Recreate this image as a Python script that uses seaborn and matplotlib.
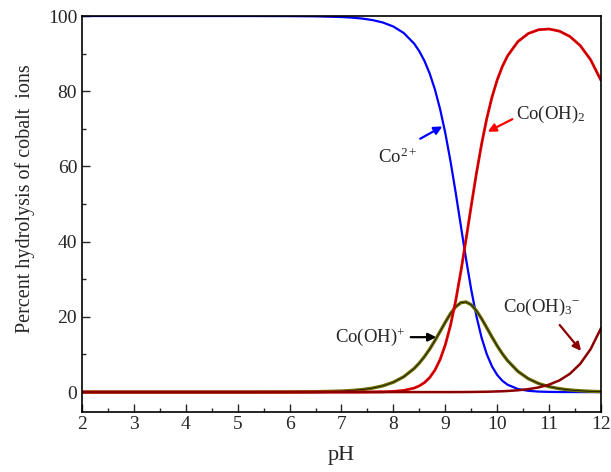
import matplotlib
matplotlib.use("Agg")
import matplotlib.pyplot as plt
from matplotlib.ticker import MultipleLocator
import seaborn as sns
import pandas as pd

ph = [2, 3, 4, 5, 6, 6.5, 7.0, 7.2, 7.4, 7.6, 7.8, 8.0, 8.2, 8.4, 8.5, 8.6, 8.7, 8.8, 8.9,
      9.0, 9.1, 9.2, 9.3, 9.4, 9.5, 9.6, 9.7, 9.8, 9.9, 10.0, 10.1, 10.2, 10.4, 10.6, 10.8,
      11.0, 11.2, 11.4, 11.6, 11.8, 12.0]
co2 = [100, 100, 100, 100, 99.97, 99.91, 99.73, 99.57, 99.32, 98.91, 98.26, 97.20, 95.48,
       92.66, 90.62, 88.02, 84.69, 80.48, 75.25, 68.89, 61.43, 53.06, 44.20, 35.39, 27.22,
       20.16, 14.44, 10.05, 6.83, 4.56, 3.00, 1.96, 0.81, 0.33, 0.13, 0.05, 0.02, 0.01, 0, 0, 0]
cooh = [0, 0, 0, 0, 0.03, 0.09, 0.27, 0.43, 0.67, 1.06, 1.67, 2.62, 4.08, 6.27, 7.73, 9.45,
        11.44, 13.69, 16.11, 18.57, 20.85, 22.67, 23.77, 23.96, 23.21, 21.64, 19.51, 17.09,
        14.63, 12.29, 10.19, 8.36, 5.50, 3.55, 2.26, 1.43, 0.90, 0.56, 0.34, 0.21, 0.12]
cooh2 = [0, 0, 0, 0, 0, 0, 0, 0, 0.01, 0.03, 0.07, 0.18, 0.44, 1.06, 1.65, 2.54, 3.87, 5.83,
         8.64, 12.54, 17.72, 24.26, 32.02, 40.63, 49.54, 58.15, 65.99, 72.77, 78.42, 82.98,
         86.59, 89.40, 93.21, 95.34, 96.36, 96.54, 95.97, 94.57, 92.14, 88.37, 82.90]
cooh3 = [0] * 21 + [0.01, 0.01, 0.02, 0.03, 0.05, 0.07, 0.09, 0.13, 0.17, 0.22, 0.29, 0.48,
                    0.78, 1.24, 1.98, 3.11, 4.86, 7.51, 11.42, 16.98]

df = pd.DataFrame({"pH": ph, "co2": co2, "cooh": cooh, "cooh2": cooh2, "cooh3": cooh3})

sns.set_style("ticks")
plt.rcParams["font.family"] = ["Liberation Serif", "DejaVu Serif"]
plt.rcParams["mathtext.fontset"] = "custom"
plt.rcParams["mathtext.rm"] = "Liberation Serif"
plt.rcParams["mathtext.it"] = "Liberation Serif:italic"
plt.rcParams["mathtext.bf"] = "Liberation Serif:bold"
plt.rcParams["mathtext.default"] = "regular"

fig = plt.figure(figsize=(6.11, 4.72), dpi=100)
ax = fig.add_axes([0.1342, 0.1271, 0.8494, 0.839])

sns.lineplot(data=df, x="pH", y="co2", ax=ax, color="#0000ff", lw=1.6)
sns.lineplot(data=df, x="pH", y="cooh", ax=ax, color="#6e6e00", lw=2.4)
sns.lineplot(data=df, x="pH", y="cooh", ax=ax, color="black", lw=0.45)
sns.lineplot(data=df, x="pH", y="cooh2", ax=ax, color="#e60000", lw=2.0)
sns.lineplot(data=df, x="pH", y="cooh2", ax=ax, color="#300000", lw=0.5, linestyle=(0, (1, 2)))
sns.lineplot(data=df, x="pH", y="cooh3", ax=ax, color="#8b0000", lw=1.8)

ax.set_xlim(2, 12)
ax.set_ylim(-5.3, 100)
ax.xaxis.set_major_locator(MultipleLocator(1))
ax.xaxis.set_minor_locator(MultipleLocator(0.5))
ax.yaxis.set_major_locator(MultipleLocator(20))
ax.yaxis.set_minor_locator(MultipleLocator(10))
ax.tick_params(which="both", direction="in", top=False, right=False, labelsize=14)
ax.tick_params(which="major", length=6, width=1)
ax.tick_params(which="minor", length=3, width=1)
ax.tick_params(axis="x", pad=3)
for s in ax.spines.values():
    s.set_linewidth(1.2)
    s.set_color("black")

ax.set_xlabel("pH", fontsize=16)
ax.xaxis.set_label_coords(0.5, -0.085)
ax.set_ylabel("Percent hydrolysis of cobalt  ions", fontsize=14.5)
ax.yaxis.set_label_coords(-0.09, 0.54)

fs = 13.5
ax.text(8.45, 62.5, "Co$^{2+}$", fontsize=fs, ha="right", va="center")
ax.annotate("", xy=(8.99, 71.0), xytext=(8.47, 67.0),
            arrowprops=dict(arrowstyle="-|>", color="#0000ff", lw=1.6, mutation_scale=12))
ax.text(10.37, 73.7, "Co(OH)$_{2}$", fontsize=fs, ha="left", va="center")
ax.annotate("", xy=(9.77, 68.9), xytext=(10.34, 72.9),
            arrowprops=dict(arrowstyle="-|>", color="#ff0000", lw=1.6, mutation_scale=12))
ax.text(8.24, 14.6, "Co(OH)$^{+}$", fontsize=fs, ha="right", va="center")
ax.annotate("", xy=(8.88, 14.6), xytext=(8.28, 14.6),
            arrowprops=dict(arrowstyle="-|>", color="black", lw=1.6, mutation_scale=12))
ax.text(10.11, 22.5, "Co(OH)$_{3}$$^{-}$", fontsize=fs, ha="left", va="center")
ax.annotate("", xy=(11.65, 10.4), xytext=(11.17, 18.4),
            arrowprops=dict(arrowstyle="-|>", color="#8b0000", lw=1.6, mutation_scale=12))

fig.savefig("out.png", dpi=100)
